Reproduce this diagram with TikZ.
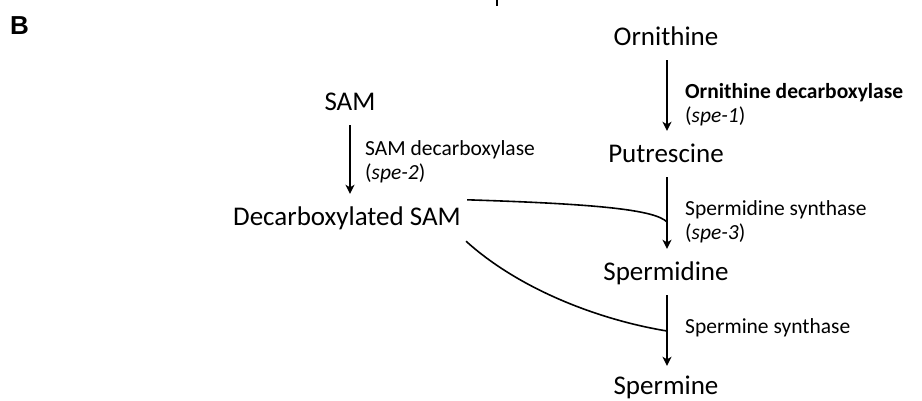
\documentclass[tikz,border=0pt]{standalone}
\usepackage{fontspec}
\setmainfont{Carlito}
\newfontfamily\panelfont{Liberation Sans}
\usepackage{tikz}
\usetikzlibrary{arrows.meta}

\begin{document}
\begin{tikzpicture}[x=1pt,y=-1pt,
    cpd/.style={font=\fontsize{27}{30}\selectfont,inner sep=0pt,text height=18pt,text depth=5pt,anchor=base},
    enz/.style={font=\fontsize{21.5}{24}\selectfont,inner sep=0pt,anchor=base west,align=left},
    rxn/.style={-{Stealth[length=9pt,width=9pt,inset=2.5pt]},line width=1.6pt,shorten <=10pt,shorten >=13pt},
    link/.style={line width=1.6pt}]
    \useasboundingbox (0,0) rectangle (922,400);
    \node[font=\panelfont\bfseries\fontsize{26}{28}\selectfont,inner sep=0pt,anchor=base west] (panel) at (10,34) {B};
    \draw[line width=2pt] (497,0) -- (497,6);
    % polyamine pathway
    \node[cpd] (orn) at (666,45) {Ornithine};
    \node[cpd] (put) at (666,162) {Putrescine};
    \node[cpd] (spd) at (666,280) {Spermidine};
    \node[cpd] (spm) at (666,394) {Spermine};
    \node[cpd] (sam) at (350,110) {SAM};
    \node[cpd] (dsam) at (347,225) {Decarboxylated SAM};
    % enzymes (base = last line)
    \node[enz] (odc) at (685,122) {\textbf{Ornithine decarboxylase}\\(\textit{spe-1})};
    \node[enz] (spds) at (685,239) {Spermidine synthase\\(\textit{spe-3})};
    \node[enz] (spms) at (685,333) {Spermine synthase};
    \node[enz] (samdc) at (365,179) {SAM decarboxylase\\(\textit{spe-2})};
    % reactions
    \draw[rxn] (orn.south -| 667,0) -- (put.north -| 667,0);
    \draw[rxn] (put.south -| 667,0) -- (spd.north -| 667,0);
    \draw[rxn,shorten >=10pt] (spd.south -| 667,0) -- (spm.north -| 667,0);
    \draw[rxn] (sam.south) -- (sam.south |- dsam.north);
    % aminopropyl donor
    \coordinate (j1) at (667,222);
    \coordinate (j2) at (667,331);
    \draw[link] ([shift={(6,-7)}]dsam.north east) .. controls (600,204) and (655,210) .. (j1);
    \draw[link] ([shift={(5,11)}]dsam.south east) .. controls (520,290) and (600,320) .. (j2);
\end{tikzpicture}
\end{document}
